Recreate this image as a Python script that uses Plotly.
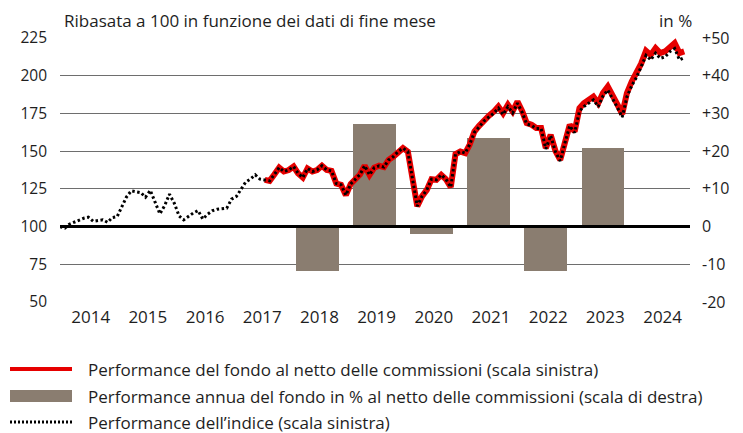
import pandas as pd
import plotly.graph_objects as go

# ---------------- data ----------------
# month-end dates, Dec 2013 .. Nov 2024
months = pd.date_range("2013-12-31", periods=132, freq="ME")

# Index performance (rebased to 100), Dec 2013 .. Nov 2024
index_values = [
    100, 99, 101.5, 103, 104.5, 105.5, 106.2, 103.5, 104, 104.5, 102.8, 106,
    106.6, 113, 119.5, 123.7, 123, 122.5, 119.5, 124, 116, 108.4, 114, 121.5,
    115.5, 107, 104.4, 107, 109, 110.6, 105, 108.2, 110.5, 111.5, 112, 112.2,
    118.2, 120, 124.5, 129.5, 131.5, 134.3, 131.4,
    131, 130.3, 134.5, 139.1, 136.5, 137.5, 139.8, 135.4, 132.5, 138.5, 136.5,
    137.5, 140.3, 137.5, 136.9, 128.5, 127.7, 120.8, 128.3, 131.5, 134.5, 140.3,
    134.3, 139, 140.3, 139.4, 144.2, 146.4, 149.7, 152, 149.7, 132, 113.5, 120,
    124.3, 131.4, 131, 134.3, 131.4, 126.1, 148, 149.7, 148.7, 154.2, 162.5,
    166, 170, 172.5, 175, 178.5, 174.2, 179.5, 175.3, 181.8, 175.5, 168, 167,
    165, 165, 151.5, 160.3, 149.5, 143.5, 155.8, 166.8, 162.2,
    176.5, 179.5, 182, 184, 179.5, 186.5, 190.5, 185, 179, 172.5, 186, 193.5,
    199, 206, 213.5, 210.5, 215, 211.5, 212.5, 216, 218, 210.5, 212,
]

# Fund performance net of fees (rebased), Jul 2017 .. Nov 2024
fund_start = 43
fund_values = [
    131, 130.3, 134.5, 139.1, 136.5, 137.5, 139.8, 135.4, 132.5, 138.5, 136.5,
    137.5, 140.3, 137.5, 136.9, 128.5, 127.7, 120.8, 128.3, 131.5, 134.5, 140.3,
    134.3, 139, 140.3, 139.4, 144.2, 146.4, 149.7, 152, 149.7, 132, 113.5, 120,
    124.3, 131.4, 131, 134.3, 131.4, 126.1, 148, 149.7, 148.7, 154.2, 163,
    166.8, 170.8, 173.4, 176, 179.6, 175.2, 180.7, 176.3, 182.9, 176.3, 168.6,
    167.5, 165.3, 165.3, 152, 160.8, 150, 144.2, 156.4, 167.4, 163, 178.5,
    181.8, 184, 186.2, 181.8, 188.5, 192.8, 187.3, 181, 174.5, 188.5, 196.2,
    201.7, 208, 216.5, 213.8, 218.3, 215, 216.1, 219.4, 221.6, 215, 216.1,
]

# Annual fund performance in % (right axis)
bar_years = [2018, 2019, 2020, 2021, 2022, 2023]
bar_values = [-11.9, 27.2, -2.0, 23.6, -11.9, 20.9]

year_labels = [str(y) for y in range(2014, 2025)]
left_ticks = [50, 75, 100, 125, 150, 175, 200, 225]
right_ticks = [-20, -10, 0, 10, 20, 30, 40, 50]
right_tick_text = ["-20", "-10", "0", "+10", "+20", "+30", "+40", "+50"]

title_text = "Ribasata a 100 in funzione dei dati di fine mese"
unit_text = "in %"
legend_texts = [
    "Performance del fondo al netto delle commissioni (scala sinistra)",
    "Performance annua del fondo in % al netto delle commissioni (scala di destra)",
    "Performance dell\u2019indice (scala sinistra)",
]

# ---------------- styling ----------------
RED = "#e60000"
BAR = "#8a7d70"
GRID = "#6e6e6e"
TEXT = "#1e1e1e"
FONT = "Open Sans"

W, H = 743, 433
ML, MR, MT, MB = 60, 53, 38, 131
PW, PH = W - ML - MR, H - MT - MB


def px_x(x):
    return (x - ML) / PW


def px_y(y):
    return (H - MB - y) / PH


fig = go.Figure()

bar_x = [pd.Timestamp(f"{y}-06-30") for y in bar_years]
fig.add_trace(go.Bar(
    x=bar_x, y=bar_values, yaxis="y", marker=dict(color=BAR, line=dict(width=0)),
    width=9 * 30.44 * 86400000, showlegend=False, hoverinfo="skip",
))

fig.add_trace(go.Scatter(
    x=months[fund_start:fund_start + len(fund_values)], y=fund_values,
    yaxis="y2", mode="lines", line=dict(color=RED, width=6),
    showlegend=False,
))
fig.add_trace(go.Scatter(
    x=months[:len(index_values)], y=index_values,
    yaxis="y2", mode="lines", line=dict(color="#000000", width=3, dash="2.5px,2.5px"),
    showlegend=False,
))

tick_x = [pd.Timestamp(f"{y}-07-15") for y in range(2014, 2025)]

fig.update_layout(
    width=W, height=H,
    margin=dict(l=ML, r=MR, t=MT, b=MB, pad=0),
    paper_bgcolor="white", plot_bgcolor="white",
    font=dict(family=FONT, color=TEXT, size=15),
    bargap=0,
    xaxis=dict(
        range=[pd.Timestamp("2013-12-31"), pd.Timestamp("2025-01-06")],
        tickvals=tick_x, ticktext=year_labels, showgrid=False, zeroline=False,
        showline=False, ticks="", tickfont=dict(size=17, color=TEXT),
        ticklabelstandoff=3,
    ),
    yaxis=dict(
        side="right", range=[-20, 50], tickvals=right_ticks, ticktext=right_tick_text,
        showgrid=True, gridcolor=GRID, gridwidth=1, zeroline=False, showline=False,
        ticks="", tickfont=dict(size=16, color=TEXT), ticklabelstandoff=11,
    ),
    yaxis2=dict(
        side="left", overlaying="y", range=[50, 225], tickvals=left_ticks,
        showgrid=False, zeroline=False, showline=False, ticks="",
        tickfont=dict(size=15.5, color=TEXT), ticklabelstandoff=12,
    ),
)

shapes = [
    dict(type="line", xref="paper", yref="y", x0=0, x1=1, y0=0, y1=0,
         line=dict(color="#000000", width=3), layer="above"),
]
annotations = [
    dict(text=title_text, xref="paper", yref="paper", x=px_x(62), y=px_y(21),
         xanchor="left", yanchor="middle", showarrow=False, font=dict(size=17, color=TEXT)),
    dict(text=unit_text, xref="paper", yref="paper", x=px_x(694), y=px_y(21),
         xanchor="right", yanchor="middle", showarrow=False, font=dict(size=17, color=TEXT)),
]

rows = [369, 396, 422]
sx0, sx1 = px_x(10), px_x(72)
shapes.append(dict(type="line", xref="paper", yref="paper", x0=sx0, x1=sx1,
                   y0=px_y(rows[0]), y1=px_y(rows[0]), line=dict(color=RED, width=4)))
shapes.append(dict(type="rect", xref="paper", yref="paper", x0=sx0, x1=sx1,
                   y0=px_y(rows[1] - 6), y1=px_y(rows[1] + 6),
                   fillcolor=BAR, line=dict(width=0)))
shapes.append(dict(type="line", xref="paper", yref="paper", x0=sx0, x1=sx1,
                   y0=px_y(rows[2]), y1=px_y(rows[2]),
                   line=dict(color="#000000", width=3, dash="2px,2px")))
for r, t in zip(rows, legend_texts):
    annotations.append(dict(text=t, xref="paper", yref="paper", x=px_x(86), y=px_y(r),
                            xanchor="left", yanchor="middle", showarrow=False,
                            font=dict(size=17, color=TEXT)))

fig.update_layout(shapes=shapes, annotations=annotations)
fig.write_html("out.html", config={"displayModeBar": False},
               post_script="document.body.style.margin='0';")
